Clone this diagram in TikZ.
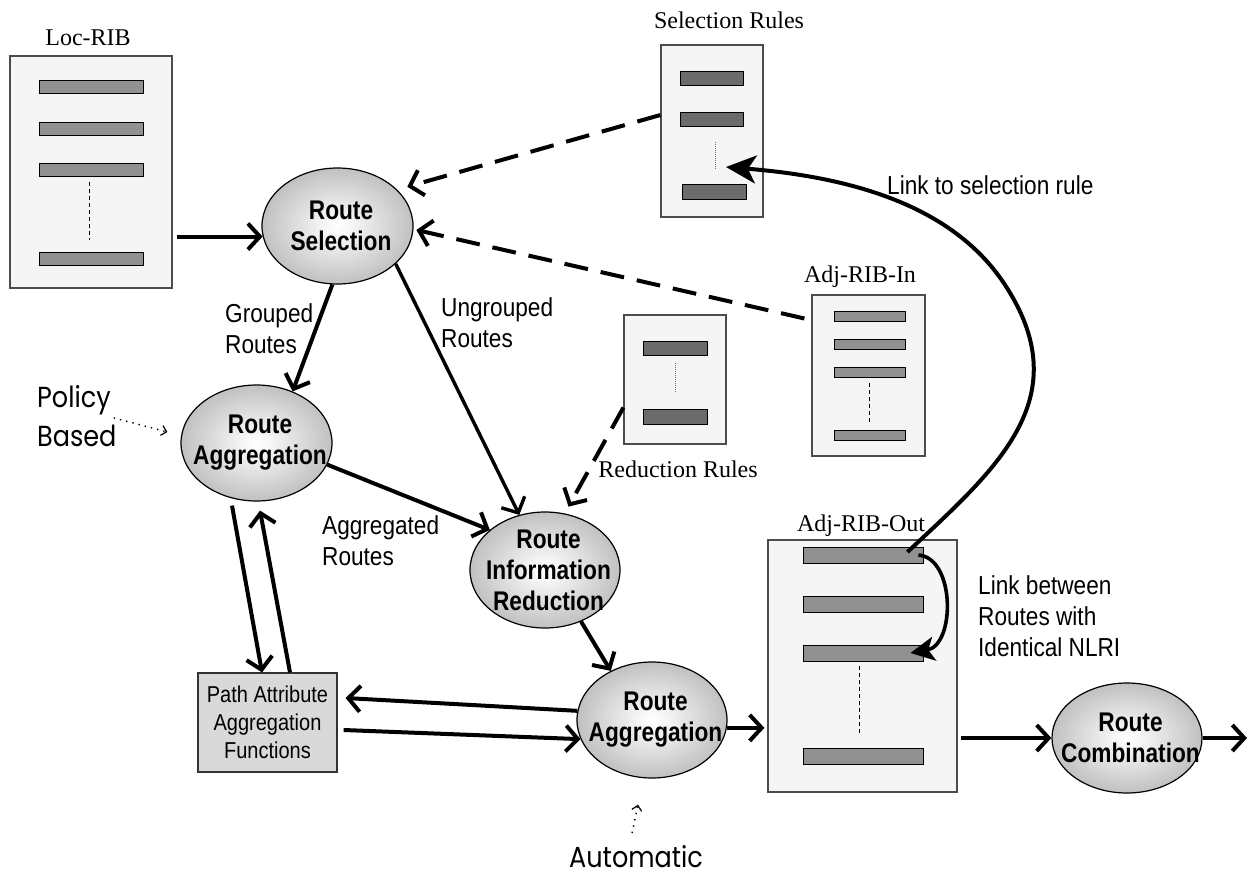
\documentclass[tikz,border=0pt]{standalone}
\usepackage{fontspec}
\setmainfont{Liberation Serif}
\newfontfamily\lblfont[FakeStretch=0.87]{Liberation Sans}
\newfontfamily\ellfont[FakeStretch=0.84]{Liberation Sans}
\newfontfamily\geofont[FakeStretch=0.88]{Poppins}
\usetikzlibrary{shapes.geometric, arrows.meta, calc}
\pgfdeclareradialshading{orb}{\pgfpoint{0bp}{0bp}}{color(0bp)=(white); color(4bp)=(black!3); color(50bp)=(black!50); color(75bp)=(black!50)}
% a centred line of stage text that does not widen the ellipse
\newcommand\stl[1]{\makebox[0pt][c]{\hspace*{7pt}#1}}

\begin{document}
\begin{tikzpicture}[x=1pt, y=-1pt,
  orbnode/.style={ellipse, draw=black, line width=1.2pt, shade, shading=orb,
    minimum width=151pt, minimum height=116pt, inner sep=0pt, align=center,
    font=\ellfont\bfseries\fontsize{27}{31}\selectfont},
  tablebox/.style={rectangle, draw=black!70, line width=1.2pt, fill=black!4, inner sep=0pt},
  bar/.style={rectangle, draw=black, line width=0.9pt, fill=black!43, inner sep=0pt},
  darkbar/.style={bar, fill=black!58},
  ttl/.style={font=\fontsize{24}{28}\selectfont, inner sep=0pt, anchor=base},
  lbl/.style={font=\lblfont\fontsize{26}{31}\selectfont, inner sep=0pt, align=left, anchor=north west},
  geo/.style={font=\geofont\fontsize{29}{39}\selectfont, inner sep=0pt, align=left, anchor=north west},
  pabox/.style={rectangle, draw=black!80, line width=1.2pt, fill=black!15, inner sep=0pt,
    minimum width=139pt, minimum height=99pt, align=center,
    font=\lblfont\fontsize{23}{28}\selectfont},
  arr/.style={line width=4pt, -{Straight Barb[length=12pt,width=26pt]}},
  dasharr/.style={arr, dash pattern=on 24pt off 13pt},
  dotarr/.style={line width=1.4pt, dash pattern=on 1.4pt off 5pt, -{Straight Barb[length=5pt,width=10pt,line width=1.2pt]}},
  linkarr/.style={line width=4pt, -{Stealth[length=30pt,width=28pt,inset=8pt]}},
  vdash/.style={line width=1pt, dash pattern=on 4pt off 3pt},
  vdot/.style={line width=1pt, draw=black!55, dash pattern=on 1pt off 1pt}
]
\useasboundingbox (0,0) rectangle (1254,879);
\fill[white] (0,0) rectangle (1254,879);

% ---------- Loc-RIB ----------
\node[ttl] (loct) at (88,45) {Loc-RIB};
\node[tablebox, minimum width=162pt, minimum height=232pt] (loc) at (91,172) {};
\node[bar, minimum width=104pt, minimum height=13pt] (lb1) at (91,86.5) {};
\node[bar, minimum width=104pt, minimum height=13pt] (lb2) at (91,128.5) {};
\node[bar, minimum width=104pt, minimum height=13pt] (lb3) at (91,170) {};
\node[bar, minimum width=104pt, minimum height=13pt] (lb4) at (91,259) {};
\draw[vdash] ([xshift=-2pt,yshift=-5pt]lb3.south) -- ([xshift=-2pt,yshift=12pt]lb4.north);

% ---------- Selection Rules ----------
\node[ttl] (selt) at (729,28) {Selection Rules};
\node[tablebox, minimum width=102pt, minimum height=172pt] (sel) at (712,131) {};
\node[darkbar, minimum width=63pt, minimum height=14pt] (sb1) at (711.5,78) {};
\node[darkbar, minimum width=63pt, minimum height=14pt] (sb2) at (711.5,119) {};
\node[darkbar, minimum width=64pt, minimum height=15pt] (sb3) at (714,191.5) {};
\draw[vdot] ([xshift=3.5pt,yshift=-16pt]sb2.south) -- ([xshift=1pt,yshift=15pt]sb3.north);

% ---------- Adj-RIB-In ----------
\node[ttl] (aint) at (860,282) {Adj-RIB-In};
\node[tablebox, minimum width=113pt, minimum height=161pt] (ain) at (868.5,375.5) {};
\node[bar, minimum width=71pt, minimum height=10pt] (ib1) at (869.5,316) {};
\node[bar, minimum width=71pt, minimum height=10pt] (ib2) at (869.5,344) {};
\node[bar, minimum width=71pt, minimum height=10pt] (ib3) at (869.5,372) {};
\node[bar, minimum width=71pt, minimum height=10pt] (ib4) at (869.5,435) {};
\draw[vdash] ([yshift=-6pt]ib3.south) -- ([yshift=6pt]ib4.north);

% ---------- Reduction Rules ----------
\node[tablebox, minimum width=102pt, minimum height=129pt] (red) at (675,379.5) {};
\node[darkbar, minimum width=64pt, minimum height=14pt] (rb1) at (675,348) {};
\node[darkbar, minimum width=64pt, minimum height=15pt] (rb2) at (675,416.5) {};
\draw[vdot] ([yshift=-8pt]rb1.south) -- ([yshift=17pt]rb2.north);
\node[ttl] (redt) at (678,477) {Reduction Rules};

% ---------- Adj-RIB-Out ----------
\node[ttl] (aoutt) at (861,531) {Adj-RIB-Out};
\node[tablebox, minimum width=189pt, minimum height=252pt] (aout) at (862.5,666) {};
\node[bar, minimum width=120pt, minimum height=16pt] (ob1) at (863,555) {};
\node[bar, minimum width=120pt, minimum height=16pt] (ob2) at (863,604.5) {};
\node[bar, minimum width=120pt, minimum height=16pt] (ob3) at (863,653) {};
\node[bar, minimum width=120pt, minimum height=16pt] (ob4) at (863,756.5) {};
\draw[vdash] ([xshift=-4pt,yshift=-5pt]ob3.south) -- ([xshift=-4pt,yshift=14pt]ob4.north);

% ---------- processing stages ----------
\node[orbnode] (rs)  at (337.5,226) {\stl{Route}\\\stl{Selection}};
\node[orbnode] (ra1) at (256.5,443) {\stl{Route}\\\stl{Aggregation}};
\node[orbnode, minimum width=150pt] (rir) at (545,570) {\stl{Route}\\\stl{Information}\\\stl{Reduction}};
\node[orbnode, minimum width=150pt] (ra2) at (652,720) {\stl{Route}\\\stl{Aggregation}};
\node[orbnode, minimum width=150pt, minimum height=110pt] (rc) at (1127,738) {\stl{Route}\\\stl{Combination}};
\node[pabox] (pa) at (267.5,722.5) {Path Attribute\\Aggregation\\Functions};
\coordinate (exit) at (1247,738);

% ---------- labels ----------
\node[lbl] (lgr) at (225,303) {Grouped\\Routes};
\node[lbl] (lug) at (441,297) {Ungrouped\\Routes};
\node[lbl] (lag) at (322,515) {Aggregated\\Routes};
\node[lbl] (lsel) at (887,175) {Link to selection rule};
\node[lbl] (lnl) at (978,575) {Link between\\Routes with\\Identical NLRI};
\node[geo] (pol) at (37,385) {Policy\\Based};
\node[geo] (aut) at (569,845) {Automatic};

% ---------- connectors ----------
\draw[arr] ([xshift=4pt]rs.188 -| loc.east) -- (rs.188);
\draw[dasharr] ([yshift=16pt]sel.west) -- ([xshift=8pt,yshift=5pt]rs.29);
\draw[dasharr] ([xshift=-7pt,yshift=57pt]ain.west) -- ([xshift=3pt]rs.-3);
\draw[dasharr] ([yshift=-28pt]red.west) -- ([xshift=3pt,yshift=7pt]rir.70);
\draw[arr] (rs.265) -- (ra1.55);
\draw[arr, line width=3.4pt] (rs.-33) -- (rir.115);
\draw[arr] (ra1.-17) -- (rir.144);
\draw[arr] ([xshift=-24.5pt,yshift=-4pt]ra1.south) -- ([xshift=-5.5pt]pa.north);
\draw[arr] ([xshift=22.5pt]pa.north) -- ([xshift=3.5pt,yshift=-9pt]ra1.south);
\draw[arr] (rir.-55) -- (ra2.130);
\draw[arr] (ra2.173) -- ([xshift=8pt,yshift=24.5pt]pa.east);
\draw[arr] ([xshift=6pt,yshift=-7.5pt]pa.east) -- (ra2.195);
\draw[arr] (ra2.-6) -- ([xshift=-3pt]ra2.-6 -| aout.west);
\draw[arr] ([xshift=3pt]rc.west -| aout.east) -- (rc.west);
\draw[arr] (rc.east) -- (exit);
\draw[dotarr] ([xshift=-3pt,yshift=-2pt]pol.east) -- ([xshift=-13pt,yshift=11pt]ra1.west);
\draw[dotarr] ([xshift=-4pt,yshift=12pt]aut.north) -- ([xshift=-14pt,yshift=-26pt]ra2.south);

% links between table rows
\draw[linkarr] ([xshift=-16pt,yshift=3pt]ob1.east)
  .. controls (995,470) and (1078,400) .. (1007,288)
  .. controls (955,205) and (850,177) .. ([xshift=14pt,yshift=-36pt]sel.center);
\draw[line width=3.6pt, -{Stealth[length=24pt,width=24pt,inset=6pt]}] ([xshift=-5pt]ob1.east)
  .. controls +(37pt,-3pt) and +(45pt,8pt) .. ([xshift=-13pt]ob3.east);
\end{tikzpicture}
\end{document}
